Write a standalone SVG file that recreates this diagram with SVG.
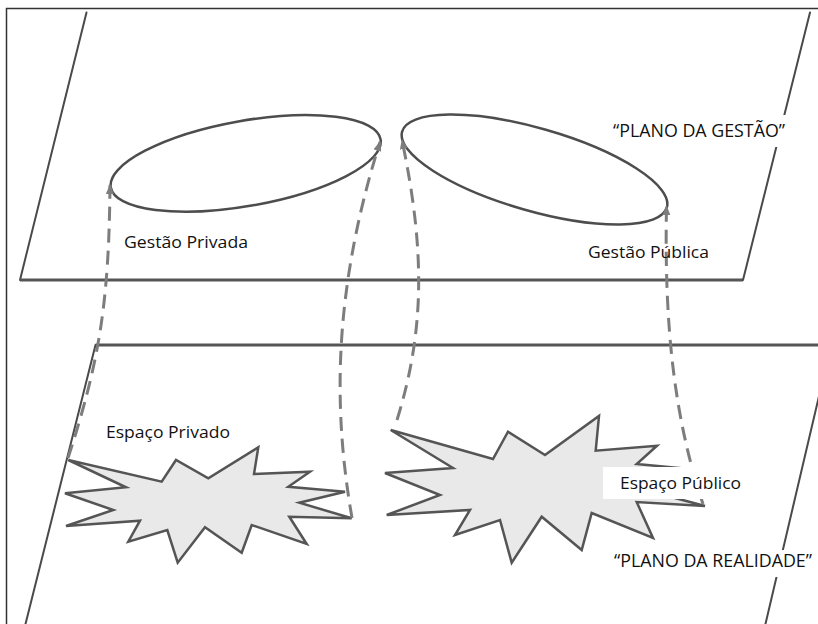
<svg xmlns="http://www.w3.org/2000/svg" width="818" height="624" viewBox="0 0 818 624">
<style>
.frame{fill:none;stroke:#333;stroke-width:1.5}
.plane{fill:none;stroke:#4a4a4a;stroke-width:2;stroke-linecap:round}
.edge{fill:none;stroke:#555;stroke-width:3}
.ell{fill:none;stroke:#4d4d4d;stroke-width:2.5}
.star{fill:#e9e9e9;stroke:#555;stroke-width:2.5;stroke-linejoin:miter}
.conn{fill:none;stroke:#7d7d7d;stroke-width:3;stroke-dasharray:14 8}
.lbl{font-family:"Open Sans",Lato,"Liberation Sans",sans-serif;font-size:16.5px;fill:#111}
.ttl{font-family:"Open Sans",Lato,"Liberation Sans",sans-serif;font-size:18px;fill:#111}
.bg{fill:#fff}
</style>
<defs>
<marker id="ah" viewBox="0 0 10 8" refX="9" refY="4" markerWidth="10" markerHeight="8" markerUnits="userSpaceOnUse" orient="auto">
<path d="M0,0 L10,4 L0,8 z" fill="#7d7d7d"/>
</marker>
</defs>
<rect class="frame" x="6.5" y="8.5" width="830" height="630"/>
<g id="plano-gestao">
<line class="plane" x1="86.5" y1="12.5" x2="20" y2="280"/>
<line class="edge" x1="20" y1="280" x2="743" y2="280"/>
<line class="plane" x1="810" y1="12.5" x2="743" y2="280"/>
</g>
<g id="plano-realidade">
<line class="edge" x1="95.5" y1="345" x2="830" y2="345"/>
<line class="plane" x1="95.5" y1="345" x2="25" y2="626"/>
<line class="plane" x1="831" y1="345" x2="765" y2="626"/>
</g>
<g id="gestao-privada">
<ellipse class="ell" cx="245.7" cy="163.4" rx="137" ry="42.6" transform="rotate(-10.1 245.7 163.4)"/>
<text class="lbl" x="124" y="248" textLength="124" lengthAdjust="spacingAndGlyphs">Gestão Privada</text>
</g>
<g id="gestao-publica">
<ellipse class="ell" cx="534.5" cy="169.5" rx="137.7" ry="41.3" transform="rotate(16 534.5 169.5)"/>
</g>
<g id="espaco-privado">
<polygon class="star" points="68.3,460 161.7,481.7 176,460 208.3,478.3 258.3,447.3 254,474 310,471.7 288.3,486.7 345,491.7 299.3,502.7 351.7,518.3 289.3,516.7 306.7,544 251.7,525 241.7,552.7 205,527.3 177.7,562.7 167.3,530 128.3,541.7 140,520.7 66,526 113.3,510 65,493.3 126,487.3"/>
<text class="lbl" x="106" y="438" textLength="124" lengthAdjust="spacingAndGlyphs">Espaço Privado</text>
</g>
<g id="espaco-publico">
<polygon class="star" points="390.7,430 493,459 508,431.7 545,455 599,416 595.7,450.7 657,445.7 636.7,464 700,470 645,490 705,506 636.7,502 653,538 591.7,513 581.7,550 541.7,516.7 511.7,562.7 500,520 455,535 470,510 386.7,515 440,495 385,473 453,468"/>
</g>
<g id="connectors">
<path class="conn" d="M68,458 C100,360 109,300 110,185" marker-end="url(#ah)"/>
<path class="conn" d="M352,518 C335,420 330,300 380,142" marker-end="url(#ah)"/>
<path class="conn" d="M397,420 C425,330 425,250 402,140" marker-end="url(#ah)"/>
<path class="conn" d="M703,504 C675,420 664,330 666.5,206" marker-end="url(#ah)"/>
</g>
<g id="labels">
<rect class="bg" x="603" y="467" width="142" height="32"/>
<text class="lbl" x="620" y="489" textLength="121" lengthAdjust="spacingAndGlyphs">Espaço Público</text>
<text class="lbl" x="588" y="258" textLength="121" lengthAdjust="spacingAndGlyphs">Gestão Pública</text>
<rect class="bg" x="606" y="115" width="184" height="32"/>
<text class="ttl" x="613" y="137" textLength="172" lengthAdjust="spacingAndGlyphs">“PLANO DA GESTÃO”</text>
<rect class="bg" x="608" y="550" width="212" height="27"/>
<text class="ttl" x="614" y="567" textLength="198" lengthAdjust="spacingAndGlyphs">“PLANO DA REALIDADE”</text>
</g>
</svg>
